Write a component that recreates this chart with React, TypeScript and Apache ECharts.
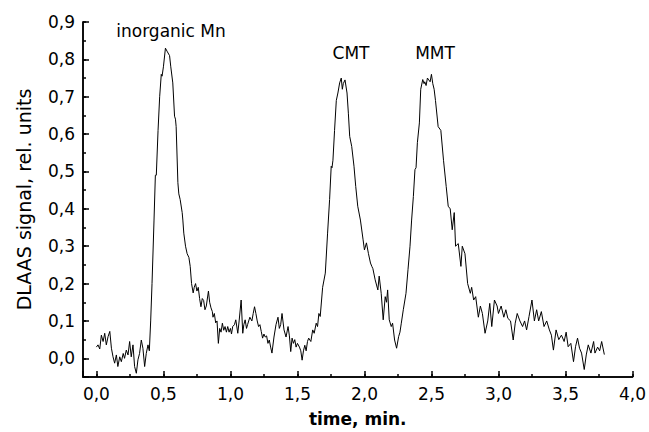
import React, { useEffect, useRef } from "react";
import * as echarts from "echarts";

const times = [
  0.000, 0.012, 0.025, 0.037, 0.050, 0.062, 0.074, 0.087, 0.100, 0.112, 0.124, 0.136, 0.149, 0.160, 0.174, 0.186, 0.200, 0.210, 0.223, 0.236,
  0.248, 0.260, 0.273, 0.285, 0.298, 0.310, 0.322, 0.335, 0.347, 0.360, 0.372, 0.385, 0.395, 0.405, 0.415, 0.430, 0.440, 0.447, 0.460, 0.472,
  0.484, 0.490, 0.500, 0.515, 0.520, 0.530, 0.546, 0.555, 0.570, 0.583, 0.590, 0.595, 0.608, 0.615, 0.625, 0.640, 0.645, 0.652, 0.665, 0.677,
  0.690, 0.700, 0.710, 0.722, 0.730, 0.740, 0.750, 0.760, 0.770, 0.780, 0.790, 0.800, 0.810, 0.820, 0.836, 0.845, 0.855, 0.865, 0.870, 0.880,
  0.890, 0.900, 0.910, 0.920, 0.930, 0.940, 0.950, 0.960, 0.970, 0.980, 0.990, 1.000, 1.008, 1.017, 1.030, 1.040, 1.055, 1.065, 1.080, 1.092,
  1.100, 1.110, 1.120, 1.128, 1.145, 1.160, 1.170, 1.180, 1.190, 1.200, 1.210, 1.220, 1.230, 1.240, 1.250, 1.260, 1.270, 1.280, 1.290, 1.300,
  1.310, 1.325, 1.340, 1.355, 1.365, 1.375, 1.385, 1.400, 1.415, 1.430, 1.440, 1.450, 1.460, 1.470, 1.480, 1.490, 1.500, 1.515, 1.525, 1.535,
  1.545, 1.555, 1.565, 1.575, 1.584, 1.600, 1.614, 1.625, 1.640, 1.650, 1.660, 1.670, 1.688, 1.708, 1.725, 1.740, 1.752, 1.758, 1.765, 1.777,
  1.790, 1.802, 1.815, 1.827, 1.835, 1.842, 1.855, 1.870, 1.880, 1.890, 1.905, 1.922, 1.935, 1.950, 1.970, 1.990, 2.000, 2.015, 2.030, 2.045,
  2.055, 2.063, 2.080, 2.100, 2.110, 2.125, 2.140, 2.155, 2.165, 2.173, 2.185, 2.200, 2.210, 2.225, 2.240, 2.255, 2.265, 2.275, 2.290, 2.310,
  2.325, 2.340, 2.352, 2.365, 2.377, 2.385, 2.395, 2.410, 2.420, 2.435, 2.445, 2.450, 2.460, 2.470, 2.480, 2.490, 2.500, 2.510, 2.520, 2.530,
  2.550, 2.570, 2.590, 2.610, 2.625, 2.640, 2.655, 2.670, 2.680, 2.700, 2.720, 2.730, 2.750, 2.770, 2.790, 2.800, 2.815, 2.830, 2.850, 2.865,
  2.880, 2.900, 2.920, 2.935, 2.950, 2.970, 2.990, 3.000, 3.020, 3.040, 3.055, 3.070, 3.090, 3.110, 3.125, 3.140, 3.160, 3.180, 3.195, 3.210,
  3.228, 3.250, 3.268, 3.285, 3.300, 3.320, 3.340, 3.360, 3.380, 3.395, 3.410, 3.430, 3.450, 3.470, 3.490, 3.505, 3.520, 3.540, 3.560, 3.575,
  3.590, 3.605, 3.620, 3.640, 3.655, 3.670, 3.690, 3.710, 3.720, 3.740, 3.755, 3.770, 3.790,
];

const signal = [
  0.030, 0.036, 0.025, 0.062, 0.045, 0.067, 0.036, 0.058, 0.072, 0.027, 0.004, -0.013, 0.009, -0.022, 0.004, -0.009, 0.013, 0.000, 0.022, 0.009,
  0.045, 0.004, 0.036, -0.022, -0.040, -0.004, 0.013, 0.049, 0.027, -0.022, 0.013, 0.036, 0.020, 0.100, 0.200, 0.370, 0.490, 0.490, 0.610, 0.700,
  0.760, 0.755, 0.780, 0.830, 0.830, 0.820, 0.810, 0.780, 0.737, 0.648, 0.640, 0.620, 0.470, 0.440, 0.425, 0.390, 0.370, 0.335, 0.300, 0.280,
  0.270, 0.246, 0.200, 0.175, 0.190, 0.200, 0.180, 0.190, 0.160, 0.138, 0.160, 0.155, 0.130, 0.140, 0.180, 0.150, 0.135, 0.125, 0.110, 0.120,
  0.095, 0.100, 0.040, 0.080, 0.070, 0.094, 0.075, 0.085, 0.070, 0.085, 0.070, 0.080, 0.065, 0.085, 0.090, 0.103, 0.067, 0.100, 0.156, 0.067,
  0.090, 0.103, 0.080, 0.090, 0.110, 0.100, 0.120, 0.138, 0.120, 0.100, 0.085, 0.090, 0.072, 0.054, 0.065, 0.057, 0.060, 0.040, 0.049, 0.030,
  0.014, 0.057, 0.090, 0.110, 0.080, 0.090, 0.120, 0.076, 0.057, 0.085, 0.060, 0.018, 0.054, 0.040, 0.050, 0.030, 0.040, 0.030, 0.020, -0.005,
  0.020, 0.035, 0.020, 0.045, 0.054, 0.045, 0.076, 0.067, 0.094, 0.085, 0.120, 0.112, 0.190, 0.228, 0.335, 0.425, 0.514, 0.510, 0.530, 0.610,
  0.690, 0.710, 0.737, 0.750, 0.720, 0.735, 0.745, 0.710, 0.656, 0.594, 0.567, 0.514, 0.460, 0.407, 0.370, 0.317, 0.290, 0.309, 0.280, 0.255,
  0.246, 0.240, 0.210, 0.183, 0.220, 0.174, 0.103, 0.165, 0.150, 0.183, 0.103, 0.085, 0.094, 0.049, 0.027, 0.058, 0.070, 0.094, 0.130, 0.174,
  0.237, 0.300, 0.370, 0.433, 0.505, 0.510, 0.577, 0.630, 0.720, 0.746, 0.735, 0.740, 0.730, 0.750, 0.745, 0.740, 0.760, 0.735, 0.720, 0.690,
  0.620, 0.610, 0.530, 0.460, 0.407, 0.400, 0.344, 0.390, 0.300, 0.307, 0.246, 0.300, 0.280, 0.200, 0.174, 0.190, 0.156, 0.165, 0.110, 0.140,
  0.120, 0.067, 0.100, 0.147, 0.085, 0.156, 0.140, 0.120, 0.140, 0.110, 0.130, 0.107, 0.100, 0.049, 0.094, 0.120, 0.100, 0.085, 0.100, 0.076,
  0.112, 0.156, 0.100, 0.130, 0.100, 0.125, 0.085, 0.100, 0.076, 0.062, 0.022, 0.076, 0.050, 0.062, 0.045, 0.070, 0.031, 0.040, -0.009, 0.031,
  0.054, 0.027, 0.014, -0.030, 0.009, 0.036, 0.014, 0.045, 0.014, 0.030, 0.020, 0.045, 0.010,
];

// axis settings (major step / minor step)
const xMajorStep = 0.5;
const xMinorStep = 0.25;
const yMajorStep = 0.1;
const yMinorStep = 0.05;

const peakLabels = ["inorganic Mn", "CMT", "MMT"];

const FONT = "'DejaVu Sans', 'Liberation Sans', sans-serif";
const fmt = (v: number) => (v < -1e-9 ? "" : v.toFixed(1).replace(".", ","));

export default function App() {
  const ref = useRef<HTMLDivElement>(null);
  useEffect(() => {
    if (!ref.current) return;
    const chart = echarts.init(ref.current, undefined, { renderer: "svg" });
    const labelStyle = { color: "#000", fontFamily: FONT, fontSize: 17 };
    const tickStyle = { color: "#000", width: 1.5 };
    const textStyle = { align: "center", verticalAlign: "middle", textAlign: "center", textVerticalAlign: "middle", fill: "#000", font: `17px ${FONT}` };
    chart.setOption({
      animation: false,
      backgroundColor: "#fff",
      grid: { left: 83, right: 15, top: 22, bottom: 55 },
      xAxis: [
        {
          type: "value",
          min: -0.1,
          max: 4.0,
          minInterval: xMajorStep,
          maxInterval: xMajorStep,
          position: "bottom",
          axisLine: { show: true, onZero: false, lineStyle: { color: "#000", width: 1.5 } },
          splitLine: { show: false },
          axisTick: { show: true, inside: true, length: 6, lineStyle: tickStyle },
          axisLabel: { ...labelStyle, margin: 8, formatter: fmt },
          name: "time, min.",
          nameLocation: "middle",
          nameGap: 33,
          nameTextStyle: { color: "#000", fontFamily: FONT, fontSize: 17, fontWeight: "bold" },
        },
        {
          type: "value",
          min: -0.1,
          max: 4.0,
          minInterval: xMinorStep,
          maxInterval: xMinorStep,
          position: "bottom",
          axisLine: { show: true, onZero: false, lineStyle: { color: "#000", width: 1.5 } },
          splitLine: { show: false },
          axisTick: { show: true, inside: true, length: 3, lineStyle: tickStyle },
          axisLabel: { show: false },
        },
      ],
      yAxis: [
        {
          type: "value",
          min: -0.05,
          max: 0.9,
          minInterval: yMajorStep,
          maxInterval: yMajorStep,
          position: "left",
          axisLine: { show: true, onZero: false, lineStyle: { color: "#000", width: 1.5 } },
          splitLine: { show: false },
          axisTick: { show: true, inside: true, length: 6, lineStyle: tickStyle },
          axisLabel: { ...labelStyle, margin: 8, formatter: fmt },
          name: "DLAAS signal, rel. units",
          nameLocation: "middle",
          nameGap: 50,
          nameTextStyle: { color: "#000", fontFamily: FONT, fontSize: 19 },
        },
        {
          type: "value",
          min: -0.05,
          max: 0.9,
          minInterval: yMinorStep,
          maxInterval: yMinorStep,
          position: "left",
          axisLine: { show: true, onZero: false, lineStyle: { color: "#000", width: 1.5 } },
          splitLine: { show: false },
          axisTick: { show: true, inside: true, length: 3, lineStyle: tickStyle },
          axisLabel: { show: false },
        },
      ],
      series: [
        {
          type: "line",
          xAxisIndex: 0,
          yAxisIndex: 0,
          data: times.map((t, i) => [t, signal[i]]),
          showSymbol: false,
          symbol: "none",
          lineStyle: { color: "#000", width: 1 },
        },
      ],
      graphic: [
        { type: "text", x: 171, y: 31, style: { ...textStyle, text: peakLabels[0] } },
        { type: "text", x: 351, y: 53, style: { ...textStyle, text: peakLabels[1] } },
        { type: "text", x: 435, y: 53, style: { ...textStyle, text: peakLabels[2] } },
      ],
    });
    return () => chart.dispose();
  }, []);
  return <div ref={ref} style={{ position: "fixed", left: 0, top: 0, width: 649, height: 432 }} />;
}
